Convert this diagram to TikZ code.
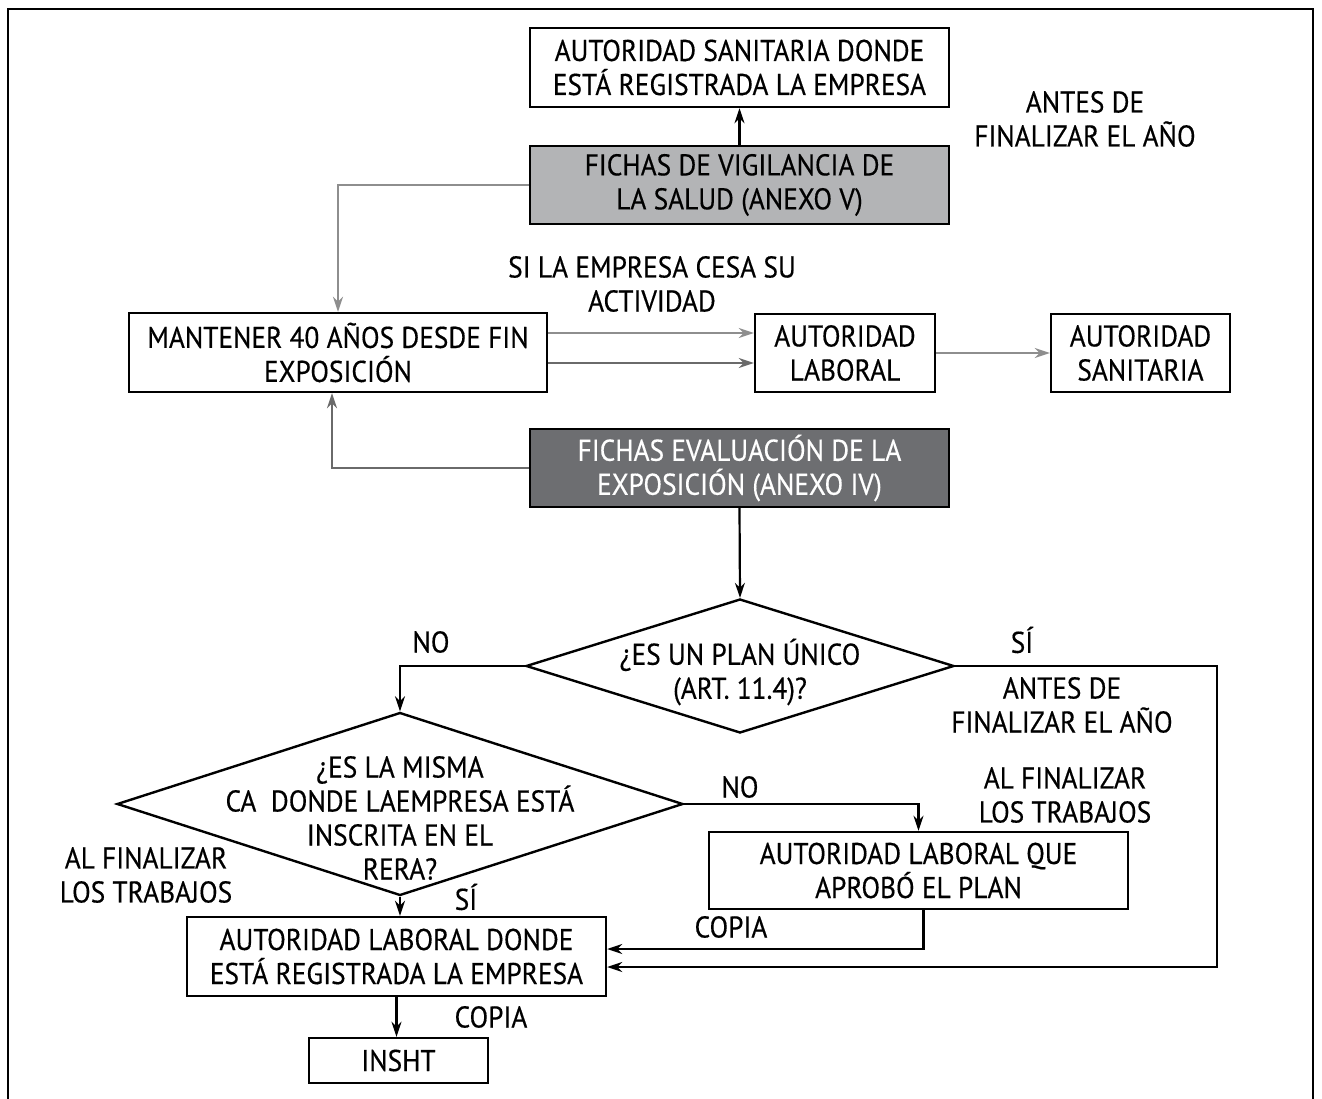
\documentclass[tikz,border=0pt]{standalone}
\usepackage{fontspec}
\setmainfont{PT Sans}[FakeStretch=0.91, FakeBold=0.4]
\usetikzlibrary{shapes.geometric, arrows.meta, positioning}
\definecolor{lightfill}{HTML}{B3B4B6}
\definecolor{darkfill}{HTML}{6D6E71}
\definecolor{lightline}{HTML}{8E8E8E}
\definecolor{darkline}{HTML}{6A6A6A}

\begin{document}
\begin{tikzpicture}[
    x=1pt, y=-1pt,
    % Define the style for each block
    process/.style={rectangle, draw, line width=2.4pt, align=center, inner sep=0pt, font=\fontsize{30}{34}\selectfont},
    decision/.style={diamond, draw, line width=2.4pt, inner sep=0pt},
    note/.style={align=center, inner sep=0pt, font=\fontsize{30}{34}\selectfont},
    connector/.style={line width=2.2pt, -{Stealth[length=15pt,width=10pt]}}
]
\useasboundingbox (0,0) rectangle (1322,1099);
\draw [line width=2.6pt] (8,1099) -- (8,9) -- (1313,9) -- (1313,1099);

% Place nodes using explicit positioning
\node [process, minimum width=419pt, minimum height=79pt] (sanreg) at (739.5,67.5) {AUTORIDAD SANITARIA DONDE\\ESTÁ REGISTRADA LA EMPRESA};
\node [process, fill=lightfill, minimum width=419pt, minimum height=78pt] (vigil) at (739.5,185) {FICHAS DE VIGILANCIA DE\\LA SALUD (ANEXO V)};
\node [process, minimum width=418pt, minimum height=79pt] (mantener) at (338,352.5) {MANTENER 40 AÑOS DESDE FIN\\EXPOSICIÓN};
\node [process, minimum width=180pt, minimum height=78pt] (laboral) at (845,353) {AUTORIDAD\\LABORAL};
\node [process, minimum width=179pt, minimum height=78pt] (sanit) at (1140.5,353) {AUTORIDAD\\SANITARIA};
\node [process, fill=darkfill, text=white, minimum width=419pt, minimum height=78pt] (evalua) at (739.5,468) {FICHAS EVALUACIÓN DE LA\\EXPOSICIÓN (ANEXO IV)};

\node [decision, minimum width=428pt, minimum height=134pt] (plan) at (740,666) {};
\node [note] (plantext) at (740,672) {¿ES UN PLAN ÚNICO\\(ART. 11.4)?};
\node [decision, minimum width=566pt, minimum height=183pt] (misma) at (400,804) {};
\node [note] (mismatext) at (400,818) {¿ES LA MISMA\\CA\ \ DONDE LAEMPRESA ESTÁ\\INSCRITA EN EL\\RERA?};

\node [process, minimum width=419pt, minimum height=77pt] (aprobo) at (918.5,870.5) {AUTORIDAD LABORAL QUE\\APROBÓ EL PLAN};
\node [process, minimum width=419pt, minimum height=79pt] (donde) at (396.5,956.5) {AUTORIDAD LABORAL DONDE\\ESTÁ REGISTRADA LA EMPRESA};
\node [process, minimum width=179pt, minimum height=45pt] (insht) at (398.5,1060.5) {INSHT};

% Labels
\node [note] (antes1) at (1085,119) {ANTES DE\\FINALIZAR EL AÑO};
\node [note] (cesa) at (652,284) {SI LA EMPRESA CESA SU\\ACTIVIDAD};
\node [note] (no1) at (431,642) {NO};
\node [note] (si1) at (1022,640) {SÍ};
\node [note] (antes2) at (1062,705) {ANTES DE\\FINALIZAR EL AÑO};
\node [note] (no2) at (740,787) {NO};
\node [note] (alfin1) at (1065,795) {AL FINALIZAR\\LOS TRABAJOS};
\node [note] (alfin2) at (146,875) {AL FINALIZAR\\LOS TRABAJOS};
\node [note] (si2) at (466,897) {SÍ};
\node [note] (copia1) at (731,927) {COPIA};
\node [note] (copia2) at (491,1017) {COPIA};

\coordinate (sicorner) at (1217,666);

% Draw connectors
\draw [connector] (vigil.north) -- (sanreg.south);
\draw [connector, lightline] (vigil.west) -| (mantener.north);
\draw [connector, lightline] ([yshift=19.5pt]mantener.east) -- ([yshift=19.5pt]mantener.east -| laboral.west);
\draw [connector, darkline] ([yshift=-10.5pt]mantener.east) -- ([yshift=-10.5pt]mantener.east -| laboral.west);
\draw [connector, lightline] (laboral) -- (sanit);
\draw [connector, darkline] (evalua.west) -| ([xshift=-6pt]mantener.south);

\draw [connector] (evalua.south) -- (plan.north);
\draw [connector] (plan.west) -| (misma.north);
\draw [connector] (plan.east) -- (sicorner) |- ([yshift=-10.5pt]donde.east);
\draw [connector] (misma.east) -| (aprobo.north);
\draw [connector] ([xshift=5pt]aprobo.south) |- ([yshift=7.5pt]donde.east);
\draw [connector] (misma.south) -- (misma.south |- donde.north);
\draw [connector] (donde.south) -- (donde.south |- insht.north);
\end{tikzpicture}
\end{document}
